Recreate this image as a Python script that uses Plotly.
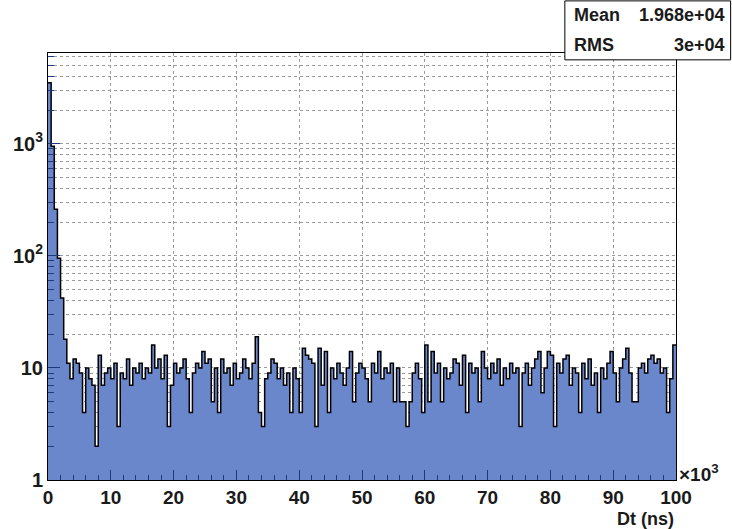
import plotly.graph_objects as go

# Histogram of time differences Dt, 200 bins of 500 ns from 0 to 100 us
bin_width_ns = 500
counts = [
    3500, 950, 260, 95, 42, 18, 11, 8, 12, 11,
    9, 4, 10, 8, 7, 2, 13, 7, 9, 10,
    8, 11, 3, 9, 8, 12, 7, 10, 9, 11,
    8, 10, 9, 16, 10, 12, 8, 13, 3, 7,
    11, 9, 10, 12, 8, 4, 9, 11, 10, 14,
    11, 12, 5, 10, 4, 12, 9, 10, 7, 11,
    8, 9, 12, 10, 8, 11, 19, 4, 3, 8,
    9, 12, 11, 8, 10, 7, 9, 4, 10, 8,
    4, 15, 13, 12, 11, 3, 15, 7, 14, 4,
    10, 8, 11, 9, 7, 10, 14, 5, 9, 11,
    10, 8, 5, 11, 9, 14, 8, 10, 9, 11,
    5, 10, 5, 5, 3, 5, 9, 11, 8, 4,
    16, 5, 14, 9, 11, 5, 10, 8, 9, 12,
    11, 7, 13, 4, 11, 9, 10, 5, 14, 10,
    8, 11, 9, 12, 7, 10, 8, 11, 9, 10,
    3, 9, 11, 7, 10, 12, 14, 6, 10, 14,
    13, 3, 11, 9, 12, 13, 7, 10, 9, 4,
    11, 8, 12, 7, 9, 4, 10, 8, 11, 14,
    9, 5, 10, 12, 15, 9, 5, 5, 10, 11,
    9, 12, 13, 11, 12, 9, 10, 4, 8, 16,
]

x_tick_vals = [0, 10000, 20000, 30000, 40000, 50000, 60000, 70000, 80000, 90000, 100000]
x_tick_text = ["0", "10", "20", "30", "40", "50", "60", "70", "80", "90", "100"]
x_minor_vals = [v for v in range(0, 100001, 2000) if v % 10000 != 0]

y_tick_vals = [1, 10, 100, 1000]
y_tick_text = ["1", "10", "10<sup>2</sup>", "10<sup>3</sup>"]
y_minor_vals = [m * d for d in (1, 10, 100) for m in range(2, 10)] + [2000, 3000, 4000, 5000, 6000]

stat_labels = ["Mean", "RMS"]
stat_values = ["1.968e+04", "3e+04"]

n_bins = len(counts)
left_edges = [i * bin_width_ns for i in range(n_bins)]
centers = [e + bin_width_ns / 2 for e in left_edges]
step_x = left_edges + [n_bins * bin_width_ns]
step_y = counts + [counts[-1]]

FILL = "#6a87cc"
FONT = "Liberation Sans, Arial, sans-serif"
TEXT = "#1a1a1a"

fig = go.Figure()
fig.add_trace(go.Bar(
    x=centers, y=counts, width=bin_width_ns,
    marker=dict(color=FILL, line=dict(width=0)),
    hoverinfo="skip", showlegend=False,
))
fig.add_trace(go.Scatter(
    x=step_x, y=step_y, mode="lines",
    line=dict(color="black", width=1.5, shape="hv"),
    hoverinfo="skip", showlegend=False,
))

GRID = "#9a9a9a"
fig.update_xaxes(
    range=[0, 100000], tickmode="array", tickvals=x_tick_vals, ticktext=x_tick_text,
    ticks="inside", ticklen=10, tickcolor="#1f3a7a", tickwidth=1,
    showline=True, linecolor="black", linewidth=1, mirror=True, zeroline=False,
    tickfont=dict(family=FONT, size=19, color=TEXT, weight="bold"),
    showgrid=True, gridcolor=GRID, griddash="dot", gridwidth=1,
    minor=dict(tickmode="array", tickvals=x_minor_vals, ticks="inside", ticklen=5,
               tickcolor="#1f3a7a", showgrid=False),
)
fig.update_yaxes(
    type="log", range=[0, 3.81], tickmode="array", tickvals=y_tick_vals, ticktext=y_tick_text,
    ticks="inside", ticklen=12, tickcolor="#1f3a7a", tickwidth=1,
    showline=True, linecolor="black", linewidth=1, mirror=True, zeroline=False,
    tickfont=dict(family=FONT, size=20, color=TEXT, weight="bold"),
    showgrid=True, gridcolor=GRID, griddash="dot", gridwidth=1,
    minor=dict(tickmode="array", tickvals=y_minor_vals, ticks="inside", ticklen=6,
               tickcolor="#1f3a7a", showgrid=True, gridcolor=GRID, griddash="dot"),
)

# Statistics box in the top-right corner
fig.add_shape(type="rect", xref="paper", yref="paper",
              x0=0.823, x1=1.087, y0=0.984, y1=1.122,
              line=dict(color="black", width=1), fillcolor="white", layer="above")
stat_font = dict(family=FONT, size=18, color=TEXT, weight="bold")
for label, value, yp in zip(stat_labels, stat_values, [1.088, 1.019]):
    fig.add_annotation(xref="paper", yref="paper", x=0.834, y=yp, text=label,
                       showarrow=False, xanchor="left", yanchor="middle", font=stat_font)
    fig.add_annotation(xref="paper", yref="paper", x=1.081, y=yp, text=value,
                       showarrow=False, xanchor="right", yanchor="middle", font=stat_font)

# Axis exponent and title
fig.add_annotation(xref="paper", yref="paper", x=1.002, y=0.016, text="\u00d710<sup>3</sup>",
                   showarrow=False, xanchor="left", yanchor="middle",
                   font=dict(family=FONT, size=19, color=TEXT, weight="bold"))
fig.add_annotation(xref="paper", yref="paper", x=1.0, y=-0.092, text="Dt (ns)",
                   showarrow=False, xanchor="right", yanchor="middle",
                   font=dict(family=FONT, size=18, color=TEXT, weight="bold"))

fig.update_layout(
    width=732, height=529,
    margin=dict(l=48, r=56, t=53, b=49),
    paper_bgcolor="white", plot_bgcolor="white",
    bargap=0, barmode="overlay",
)

fig.write_html("out.html")
